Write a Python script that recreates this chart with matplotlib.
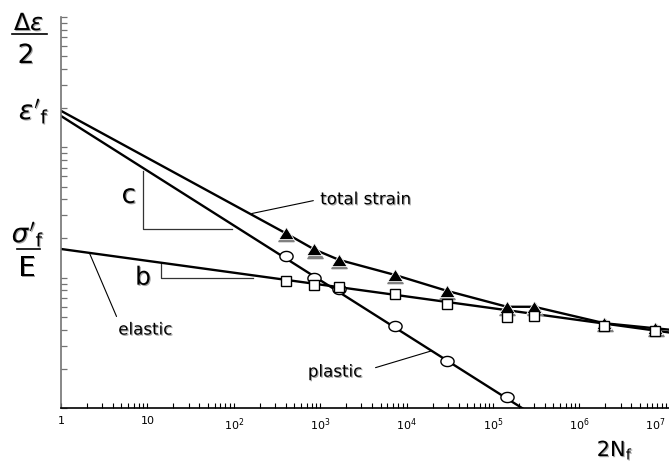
import numpy as np
import matplotlib
matplotlib.use('Agg')
import matplotlib.pyplot as plt
import matplotlib.transforms as mtransforms
import matplotlib.patheffects as pe
from matplotlib.path import Path
from matplotlib.lines import Line2D
from matplotlib.ticker import LogLocator, NullFormatter

# reversals to failure (2Nf) of the test specimens
life = [400, 850, 1650, 7300, 29000, 145000, 300000, 1950000, 7500000]
# measured strain amplitudes
total_amp = [2.19e-3, 1.65e-3, 1.37e-3, 1.05e-3, 7.94e-4, 5.98e-4, 5.98e-4, 4.47e-4, 4.09e-4]
elastic_amp = [9.44e-4, 8.79e-4, 8.43e-4, 7.46e-4, 6.32e-4, 4.99e-4, 5.11e-4, 4.26e-4, 3.92e-4]
plastic_life = [400, 850, 1650, 7300, 29000, 145000]
plastic_amp = [1.47e-3, 1.0e-3, 8.15e-4, 4.26e-4, 2.3e-4, 1.22e-4]

# fitted basquin / coffin-manson parameters
sig_f_E = 1.66e-3   # sigma_f' / E
b = -0.091
eps_f = 1.74e-2     # epsilon_f'
c = -0.42

xticks = [1, 10, 1e2, 1e3, 1e4, 1e5, 1e6, 1e7]
xtick_labels = ['1', '10', '$10^2$', '$10^3$', '$10^4$', '$10^5$', '$10^6$', '$10^7$']

plt.rcParams['mathtext.fontset'] = 'dejavusans'

W, H = 669, 463
fig = plt.figure(figsize=(W / 100, H / 100), dpi=100)
ax = fig.add_axes([61 / W, 55 / H, 608 / W, 391 / H])
ax.set_xscale('log')
ax.set_yscale('log')
xmax = 10 ** 7.037
ax.set_xlim(1, xmax)
ax.set_ylim(1e-4, 1e-1)


def elastic(n):
    return sig_f_E * np.asarray(n, float) ** b


def plastic(n):
    return eps_f * np.asarray(n, float) ** c


n = np.logspace(0, np.log10(xmax), 200)
ax.plot(n, elastic(n), color='k', lw=1.7, zorder=2)
ax.plot(n, plastic(n), color='k', lw=1.7, zorder=2)
tot_x = [1] + life + [xmax]
tot_y = [elastic(1) + plastic(1)] + total_amp + [elastic(xmax) + plastic(xmax)]
ax.plot(tot_x, tot_y, color='k', lw=1.7, zorder=2)

# markers
tri = Path([(-1, -0.8), (1, -0.8), (0, 0.8), (-1, -0.8)],
           [Path.MOVETO, Path.LINETO, Path.LINETO, Path.CLOSEPOLY])
t = np.linspace(0, 2 * np.pi, 60)
ell = Path(np.column_stack([1.3 * np.cos(t), np.sin(t)]), closed=True)

shadow = mtransforms.offset_copy(ax.transData, fig=fig, x=0.5, y=-2.2, units='dots')
ax.plot(life, total_amp, ls='none', marker=tri, ms=11, mfc='0.5', mec='0.5',
        transform=shadow, zorder=3)
ax.plot(life, total_amp, ls='none', marker=tri, ms=11, mfc='k', mec='white',
        mew=0.6, zorder=4)
ax.plot(plastic_life, plastic_amp, ls='none', marker=ell, ms=9.5, mfc='white',
        mec='k', mew=1.0, zorder=3.5)
ax.plot(life, elastic_amp, ls='none', marker='s', ms=7, mfc='white', mec='k',
        mew=1.0, zorder=6)

# slope triangles
x1, x2 = 9.0, 95.0
ax.plot([x1, x1, x2], [plastic(x1) * 0.95, plastic(x2) * 0.92, plastic(x2) * 0.92],
        color='0.2', lw=0.9, zorder=1)
x1, x2 = 14.3, 165.0
ax.plot([x1, x1, x2], [elastic(x1), elastic(x2) * 0.95, elastic(x2) * 0.95],
        color='0.2', lw=0.9, zorder=1)

shade = [pe.SimplePatchShadow(offset=(0.8, -0.8), shadow_rgbFace='0.55', alpha=0.8), pe.Normal()]

ax.text(6.1, 4.24e-3, 'c', fontsize=19, ha='center', va='center', path_effects=shade)
ax.text(8.9, 1.0e-3, 'b', fontsize=18, ha='center', va='center', path_effects=shade)

lead = dict(arrowstyle='-', lw=0.8, color='k', shrinkA=3, shrinkB=0)
ax.annotate('total strain', xy=(161, elastic(161) + plastic(161)), xytext=(1000, 4.0e-3),
            fontsize=12, ha='left', va='center', path_effects=shade,
            arrowprops=dict(lead, relpos=(0, 0.5)))
ax.annotate('elastic', xy=(2.13, elastic(2.13)), xytext=(4.6, 4.0e-4),
            fontsize=12, ha='left', va='center', path_effects=shade,
            arrowprops=dict(lead, relpos=(0, 1), shrinkA=1))
ax.annotate('plastic', xy=(19500, plastic(19500)), xytext=(720, 1.9e-4),
            fontsize=12, ha='left', va='center', path_effects=shade,
            arrowprops=dict(lead, relpos=(1, 0.5), shrinkA=8))


def fpos(x, y):
    return x / W, 1 - y / H


fig.text(*fpos(29, 23), r'$\Delta\varepsilon$', fontsize=17, ha='center', va='center', path_effects=shade)
fig.add_artist(Line2D([12 / W, 47 / W], [1 - 34 / H] * 2, color='k', lw=1.2,
                      transform=fig.transFigure))
fig.text(*fpos(26, 56), '2', fontsize=19, ha='center', va='center', path_effects=shade)
fig.text(*fpos(34, 111), r"$\varepsilon'_\mathrm{f}$", fontsize=19, ha='center', va='center',
         path_effects=shade)
fig.text(*fpos(28, 234), r"$\sigma'_\mathrm{f}$", fontsize=19, ha='center', va='center',
         path_effects=shade)
fig.add_artist(Line2D([17 / W, 40 / W], [1 - 249 / H] * 2, color='k', lw=1.2,
                      transform=fig.transFigure))
fig.text(*fpos(27, 268), 'E', fontsize=20, ha='center', va='center', path_effects=shade)
fig.text(*fpos(615, 450), r'2N$_\mathrm{f}$', fontsize=15, ha='center', va='center',
         path_effects=shade)

# axes styling
ax.spines['top'].set_visible(False)
ax.spines['right'].set_visible(False)
ax.spines['left'].set_color('0.45')
ax.spines['left'].set_linewidth(1.2)
ax.spines['bottom'].set_linewidth(1.2)
ax.set_xticks(xticks)
ax.set_xticklabels(xtick_labels)
ax.get_xticklabels()[-1].set_horizontalalignment('right')
ax.xaxis.set_minor_locator(LogLocator(subs=np.arange(2, 10)))
ax.xaxis.set_minor_formatter(NullFormatter())
ax.yaxis.set_minor_formatter(NullFormatter())
ax.tick_params(axis='x', which='both', direction='in', length=3.5, width=0.8,
               labelsize=8, pad=6)
ax.tick_params(axis='y', which='both', direction='in', length=4.5, width=0.9,
               colors='0.45', labelleft=False)

fig.savefig('out.png', dpi=100)
